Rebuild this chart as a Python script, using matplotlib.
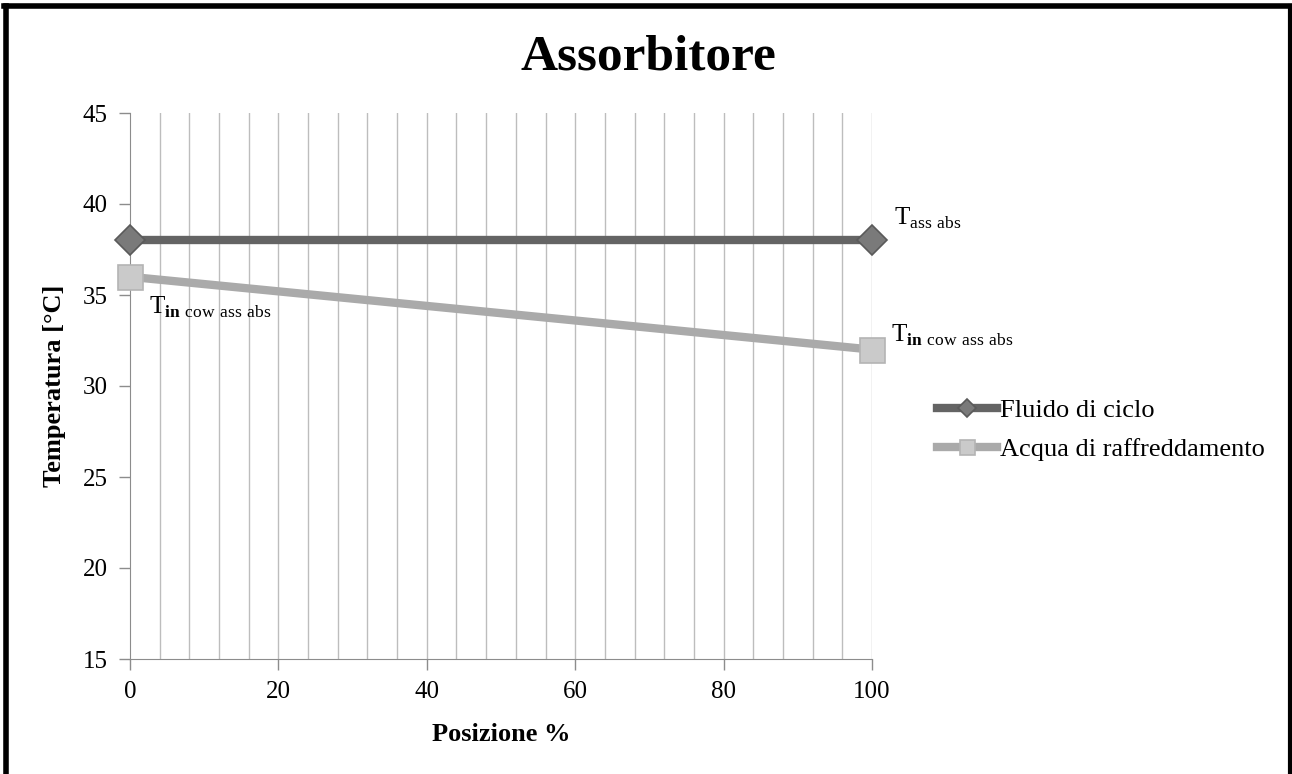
import matplotlib.pyplot as plt
from matplotlib.lines import Line2D
import numpy as np

plt.rcParams['font.family'] = ['Liberation Serif', 'DejaVu Serif']
plt.rcParams['mathtext.fontset'] = 'custom'
plt.rcParams['mathtext.rm'] = 'Liberation Serif'
plt.rcParams['mathtext.bf'] = 'Liberation Serif:bold'

# data
posizione = [0, 100]
fluido = [38, 38]
acqua = [36, 32]
x_ticks = [0, 20, 40, 60, 80, 100]
y_ticks = [15, 20, 25, 30, 35, 40, 45]
x_grid = np.arange(4, 101, 4)

fig = plt.figure(figsize=(12.92, 7.74), dpi=100)
ax = fig.add_axes([130/1292, 1 - 659/774, (872-130)/1292, (659-113)/774])

ax.set_xlim(0, 100)
ax.set_ylim(15, 45)
ax.set_xticks(x_ticks)
ax.set_yticks(y_ticks)
for gx in x_grid:
    ax.axvline(gx, color='#bdbdbd', lw=1, zorder=0)
ax.tick_params(which='major', length=8, width=1, color='#8c8c8c', labelsize=18, pad=8)

for s in ['top', 'right']:
    ax.spines[s].set_visible(False)
for s in ['left', 'bottom']:
    ax.spines[s].set_color('#8c8c8c')

ax.plot(posizione, fluido, color='#646464', lw=6, marker='D', ms=15,
        mfc='#7a7a7a', mec='#5a5a5a', mew=1.2, label='Fluido di ciclo', clip_on=False, zorder=4)
ax.plot(posizione, acqua, color='#aaaaaa', lw=6, marker='s', ms=18,
        mfc='#cacaca', mec='#b4b4b4', mew=1.2, label='Acqua di raffreddamento', clip_on=False, zorder=3)

lab_in = r'T$_{\mathbf{in}\ \mathrm{cow\ ass\ abs}}$'
ax.text(103, 38.5, r'T$_{\mathrm{ass\ abs}}$', fontsize=18, ha='left', va='bottom')
ax.text(2.5, 34.3, lab_in, fontsize=18, ha='left', va='center')
ax.text(102.5, 32.8, lab_in, fontsize=18, ha='left', va='center')

ax.set_xlabel('Posizione %', fontsize=19, fontweight='bold', labelpad=14)
ax.set_ylabel('Temperatura [°C]', fontsize=19, fontweight='bold', labelpad=12)
fig.suptitle('Assorbitore', fontsize=37, fontweight='bold', x=648/1292, y=1 - 34/774)

ax.legend(loc='center left', bbox_to_anchor=(1.055, 0.42), frameon=False, fontsize=19,
          handlelength=2.3, handletextpad=0.1, labelspacing=0.6, markerscale=0.6)

# outer border (left, top, right)
fig.add_artist(Line2D([6/1292, 6/1292], [0, 1 - 6/774], transform=fig.transFigure, color='black', lw=4))
fig.add_artist(Line2D([4/1292, 1 - 2/1292], [1 - 6/774, 1 - 6/774], transform=fig.transFigure, color='black', lw=4))
fig.add_artist(Line2D([1 - 2/1292, 1 - 2/1292], [0, 1 - 6/774], transform=fig.transFigure, color='black', lw=3))

fig.savefig('out.png', dpi=100)
